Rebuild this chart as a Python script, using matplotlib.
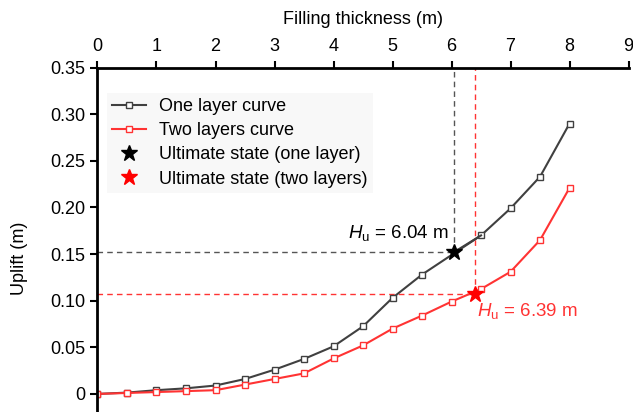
import numpy as np
import matplotlib.pyplot as plt

plt.rcParams['font.family'] = ['Liberation Sans', 'DejaVu Sans']
plt.rcParams['mathtext.fontset'] = 'custom'
plt.rcParams['mathtext.rm'] = 'Liberation Sans'
plt.rcParams['mathtext.it'] = 'Liberation Sans:italic'

# filling thickness (m) and uplift (m) for both cases
thickness = [0, 0.5, 1, 1.5, 2, 2.5, 3, 3.5, 4, 4.5, 5, 5.5, 6, 6.5, 7, 7.5, 8]
uplift_one = [0, 0.0014, 0.004, 0.006, 0.009, 0.016, 0.026, 0.0375, 0.051,
              0.0725, 0.103, 0.128, 0.148, 0.170, 0.199, 0.233, 0.290]
uplift_two = [0, 0.001, 0.002, 0.003, 0.004, 0.010, 0.016, 0.022, 0.038,
              0.052, 0.070, 0.084, 0.099, 0.1125, 0.131, 0.165, 0.221]
# the one-layer curve has no point at 6 m, the star sits there instead
thick_one = [t for t in thickness if t != 6]
uplift_one = [u for t, u in zip(thickness, uplift_one) if t != 6]

# ultimate states
hu_one, up_one = 6.04, 0.152
hu_two, up_two = 6.39, 0.107

c_one = '#404040'
c_two = '#ff3333'
fs = 13

fig = plt.figure(figsize=(6.33, 4.12), dpi=100)
ax = fig.add_axes([0.154, -0.024, 0.839, 0.860])

# dashed guide lines to the ultimate states
ax.plot([0, hu_one], [up_one, up_one], c='#555555', lw=1, dashes=(4, 3))
ax.plot([hu_one, hu_one], [up_one, 0.35], c='#555555', lw=1, dashes=(4, 3))
ax.plot([0, hu_two], [up_two, up_two], c=c_two, lw=1, dashes=(4, 3))
ax.plot([hu_two, hu_two], [up_two, 0.35], c=c_two, lw=1, dashes=(4, 3))

ax.plot(thick_one, uplift_one, c=c_one, lw=1.5, marker='s', markersize=5,
        mfc='white', mec=c_one, mew=1, label='One layer curve')
ax.plot(thickness, uplift_two, c=c_two, lw=1.5, marker='s', markersize=5,
        mfc='white', mec=c_two, mew=1, label='Two layers curve')
ax.plot([hu_one, 6.5], [up_one, 0.170], c=c_one, lw=1.5)
ax.plot(hu_one, up_one, ls='none', marker='*', c='black', markersize=12,
        label='Ultimate state (one layer)', zorder=5)
ax.plot(hu_two, up_two, ls='none', marker='*', c='red', markersize=12,
        label='Ultimate state (two layers)', zorder=5)

ax.text(5.95, 0.173, r'$H_{\mathrm{u}}$ = 6.04 m', ha='right', va='center',
        fontsize=fs + 0.5, color='black')
ax.text(6.43, 0.089, r'$H_{\mathrm{u}}$ = 6.39 m', ha='left', va='center',
        fontsize=fs + 0.5, color=c_two)

ax.set_xlim(0, 9)
ax.set_ylim(-0.03, 0.35)
ax.xaxis.tick_top()
ax.xaxis.set_label_position('top')
ax.set_xticks(np.arange(0, 10))
ax.set_yticks(np.arange(0, 0.36, 0.05))
ax.set_yticklabels(['0', '0.05', '0.10', '0.15', '0.20', '0.25', '0.30', '0.35'])
ax.tick_params(axis='both', labelsize=fs, width=1.5, length=5, direction='out')
ax.tick_params(axis='x', pad=4)
ax.set_xlabel('Filling thickness (m)', fontsize=fs, labelpad=10)
ax.set_ylabel('Uplift (m)', fontsize=fs)
ax.yaxis.set_label_coords(-0.13, 0.463)

for side in ['right', 'bottom']:
    ax.spines[side].set_visible(False)
for side in ['left', 'top']:
    ax.spines[side].set_linewidth(2)

leg = ax.legend(loc='upper left', bbox_to_anchor=(0.0, 0.955), fontsize=fs,
                frameon=True, fancybox=False, handlelength=1.9,
                labelspacing=0.4, borderpad=0.3, handletextpad=0.7)
leg.get_frame().set_facecolor('#f8f8f8')
leg.get_frame().set_edgecolor('none')
leg.get_frame().set_alpha(1)

plt.savefig('out.png', dpi=100)
